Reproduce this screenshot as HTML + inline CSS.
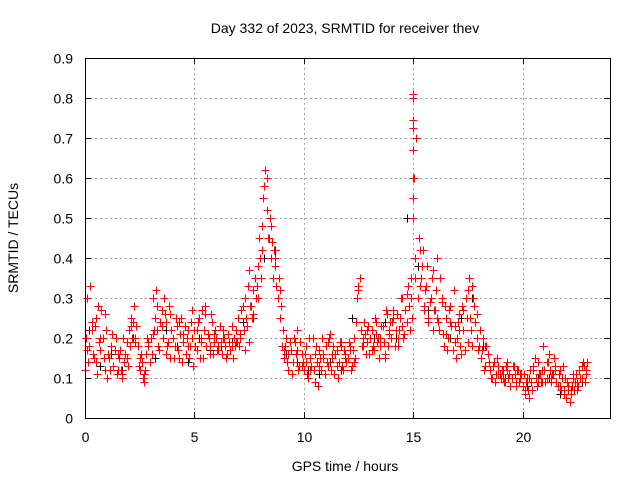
<!DOCTYPE html>
<html><head><meta charset="utf-8"><style>
body{margin:0;background:#fff;}
svg text{font-family:"Liberation Sans",sans-serif;font-size:14px;fill:#000;}
</style></head><body>
<svg id="chart" width="640" height="480" xmlns="http://www.w3.org/2000/svg">
<rect width="640" height="480" fill="#fff"/>
<text x="345" y="33" text-anchor="middle">Day 332 of 2023, SRMTID for receiver thev</text>
<text x="345" y="471" text-anchor="middle">GPS time / hours</text>
<text x="0" y="0" text-anchor="middle" transform="translate(18,238) rotate(-90)">SRMTID / TECUs</text>
<g id="grid" shape-rendering="crispEdges"></g>
<g id="ticks" shape-rendering="crispEdges"></g>
<g id="marks" shape-rendering="crispEdges"></g>
<rect x="85.5" y="58.5" width="525" height="360" fill="none" stroke="#000" stroke-width="1" shape-rendering="crispEdges"/>
</svg>
<script>
const xTicks=[0,5,10,15,20];
const yTicks=[0,0.1,0.2,0.3,0.4,0.5,0.6,0.7,0.8,0.9];
const yTickLabels=["0","0.1","0.2","0.3","0.4","0.5","0.6","0.7","0.8","0.9"];
const startHour=0, stepHour=0.1, stepHourC=0.2, blackStep=0.5;
const redA=[0.12,0.30,0.18,0.22,0.15,0.25,0.28,0.17,0.20,0.12,
0.10,0.15,0.18,0.13,0.20,0.12,0.17,0.10,0.14,0.19,
0.22,0.25,0.24,0.20,0.18,0.12,0.14,0.09,0.16,0.18,
0.20,0.30,0.25,0.22,0.17,0.27,0.30,0.24,0.19,0.15,
0.20,0.18,0.23,0.15,0.25,0.19,0.16,0.22,0.18,0.20,
0.22,0.17,0.25,0.20,0.15,0.28,0.21,0.18,0.24,0.19,
0.20,0.17,0.19,0.22,0.18,0.16,0.19,0.18,0.20,0.22,
0.25,0.20,0.28,0.30,0.23,0.37,0.28,0.32,0.30,0.38,
0.40,0.48,0.58,0.52,0.45,0.40,0.35,0.38,0.30,0.25,
0.18,0.15,0.20,0.12,0.17,0.14,0.19,0.22,0.13,0.16,
0.12,0.18,0.10,0.15,0.20,0.09,0.14,0.17,0.12,0.16,
0.18,0.13,0.21,0.15,0.11,0.17,0.14,0.19,0.12,0.16,
0.15,0.18,0.13,0.20,0.24,0.33,0.22,0.18,0.21,0.19,
0.16,0.22,0.17,0.24,0.20,0.18,0.23,0.15,0.26,0.21,
0.20,0.27,0.22,0.18,0.25,0.30,0.21,0.24,0.28,0.35,
0.80,0.35,0.30,0.42,0.38,0.28,0.33,0.25,0.30,0.22,
0.27,0.40,0.22,0.30,0.18,0.25,0.20,0.28,0.17,0.23,
0.20,0.26,0.16,0.22,0.30,0.19,0.25,0.33,0.28,0.20,
0.18,0.15,0.20,0.13,0.16,0.12,0.10,0.14,0.11,0.13,
0.10,0.12,0.09,0.14,0.11,0.10,0.13,0.08,0.12,0.10,
0.08,0.06,0.10,0.05,0.09,0.12,0.10,0.14,0.11,0.09,
0.12,0.10,0.16,0.09,0.11,0.13,0.08,0.12,0.10,0.07,
0.05,0.08,0.06,0.10,0.09,0.07,0.12,0.10,0.13,0.12];
const redB=[0.20,0.14,0.33,0.16,0.23,0.11,0.19,0.27,0.15,0.22,
0.16,0.12,0.21,0.17,0.11,0.15,0.12,0.20,0.16,0.13,
0.18,0.20,0.28,0.23,0.13,0.16,0.10,0.12,0.20,0.14,
0.16,0.22,0.32,0.18,0.24,0.20,0.26,0.18,0.28,0.22,
0.15,0.25,0.17,0.21,0.14,0.23,0.20,0.15,0.24,0.13,
0.18,0.24,0.15,0.27,0.22,0.18,0.20,0.26,0.16,0.22,
0.17,0.23,0.16,0.20,0.15,0.21,0.17,0.15,0.18,0.19,
0.18,0.27,0.22,0.25,0.33,0.28,0.25,0.35,0.33,0.45,
0.35,0.55,0.62,0.45,0.50,0.44,0.42,0.33,0.35,0.28,
0.22,0.18,0.14,0.19,0.11,0.20,0.16,0.12,0.19,0.14,
0.16,0.11,0.20,0.13,0.12,0.18,0.08,0.15,0.20,0.11,
0.14,0.20,0.12,0.18,0.16,0.10,0.19,0.13,0.17,0.14,
0.19,0.12,0.17,0.15,0.30,0.35,0.18,0.24,0.16,0.23,
0.20,0.18,0.25,0.19,0.15,0.23,0.19,0.27,0.18,0.24,
0.24,0.18,0.26,0.22,0.30,0.20,0.27,0.33,0.22,0.25,
0.60,0.70,0.45,0.35,0.42,0.32,0.38,0.29,0.35,0.27,
0.32,0.24,0.35,0.21,0.28,0.17,0.27,0.23,0.32,0.15,
0.24,0.18,0.28,0.17,0.25,0.35,0.22,0.30,0.24,0.17,
0.22,0.17,0.12,0.18,0.14,0.10,0.13,0.09,0.15,0.11,
0.12,0.09,0.13,0.10,0.08,0.13,0.11,0.12,0.09,0.11,
0.11,0.09,0.07,0.12,0.07,0.15,0.08,0.11,0.09,0.18,
0.09,0.14,0.12,0.11,0.15,0.09,0.11,0.07,0.13,0.10,
0.09,0.04,0.08,0.07,0.11,0.08,0.10,0.14,0.09,0.14];
const redC=[0.17,0.24,0.14,0.20,0.26,0.15,0.13,0.16,0.11,0.15,
0.23,0.19,0.15,0.11,0.19,0.21,0.28,0.23,0.16,0.26,
0.18,0.24,0.21,0.18,0.27,0.22,0.19,0.26,0.16,0.21,
0.18,0.20,0.16,0.23,0.19,0.21,0.17,0.19,0.26,0.30,
0.42,0.60,0.48,0.40,0.32,0.17,0.16,0.14,0.17,0.13,
0.14,0.12,0.16,0.13,0.15,0.19,0.16,0.13,0.18,0.15,
0.17,0.14,0.32,0.20,0.22,0.17,0.21,0.20,0.16,0.22,
0.25,0.20,0.23,0.31,0.30,0.40,0.33,0.27,0.24,0.37,
0.25,0.29,0.21,0.24,0.19,0.22,0.27,0.32,0.18,0.26,
0.15,0.18,0.12,0.14,0.11,0.10,0.12,0.10,0.09,0.11,
0.07,0.10,0.13,0.09,0.12,0.14,0.10,0.12,0.08,0.06,
0.07,0.11,0.09,0.13,0.11];
const spikeTimes=[15.0,15.0,15.0,15.0,15.0,15.0,15.0];
const spikeValues=[0.81,0.745,0.725,0.67,0.60,0.55,0.50];
const black=[0.22,0.13,0.16,0.12,0.20,0.09,0.15,0.22,0.18,0.14,0.20,0.17,0.18,0.19,0.24,0.25,0.40,0.42,0.16,0.14,0.12,0.11,0.14,0.12,0.25,0.18,0.20,0.24,0.20,0.50,0.38,0.27,0.22,0.20,0.25,0.30,0.18,0.14,0.10,0.09,0.08,0.10,0.10,0.06,0.07,0.09];

const NS="http://www.w3.org/2000/svg";
const L=85,R=610,T=58,B=418,XMAX=24,YMAX=0.9;
const xs=v=>L+(v/XMAX)*(R-L);
const ys=v=>B-(v/YMAX)*(B-T);
const px=v=>Math.round(v)+0.5;
const grid=document.getElementById('grid'),ticks=document.getElementById('ticks'),marks=document.getElementById('marks');
function mk(tag,attrs,parent){const e=document.createElementNS(NS,tag);for(const k in attrs)e.setAttribute(k,attrs[k]);parent.appendChild(e);return e;}
xTicks.forEach(t=>{const x=px(xs(t));
 if(t>0){const g=mk('line',{x1:x,x2:x,y1:T,y2:B,stroke:'#a0a0a0','stroke-dasharray':'2,3'},grid);
 
 }
 mk('line',{x1:x,x2:x,y1:B,y2:B-6,stroke:'#000'},ticks);mk('line',{x1:x,x2:x,y1:T,y2:T+6,stroke:'#000'},ticks);
 const tx=mk('text',{x:x,y:B+24,'text-anchor':'middle'},ticks);tx.textContent=t;
 
 });
yTicks.forEach((t,i)=>{const y=px(ys(t));
 if(i>0&&i<yTicks.length-1){const g=mk('line',{x1:L,x2:R,y1:y,y2:y,stroke:'#a0a0a0','stroke-dasharray':'2,3'},grid);
 
 }
 mk('line',{x1:L,x2:L+6,y1:y,y2:y,stroke:'#000'},ticks);mk('line',{x1:R,x2:R-6,y1:y,y2:y,stroke:'#000'},ticks);
 const tx=mk('text',{x:L-12,y:y+5,'text-anchor':'end'},ticks);tx.textContent=yTickLabels[i];
 
 });
function cross(t,v,color,name){const x=px(xs(t)),y=px(ys(v));
 const p=mk('path',{d:`M${x-4},${y}h8M${x},${y-4}v8`,stroke:color,'stroke-width':1,fill:'none'},marks);
 
 }
black.forEach((v,i)=>cross(startHour+i*blackStep+0.2,v,'#000','black-point'));
redA.forEach((v,i)=>cross(startHour+i*stepHour,v,'#ff0000','red-point'));
redB.forEach((v,i)=>cross(startHour+i*stepHour+0.05,v,'#ff0000','red-point'));
redC.forEach((v,i)=>cross(startHour+i*stepHourC+0.1,v,'#ff0000','red-point'));
spikeValues.forEach((v,i)=>cross(spikeTimes[i],v,'#ff0000','red-spike-point'));
</script>
</body></html>
